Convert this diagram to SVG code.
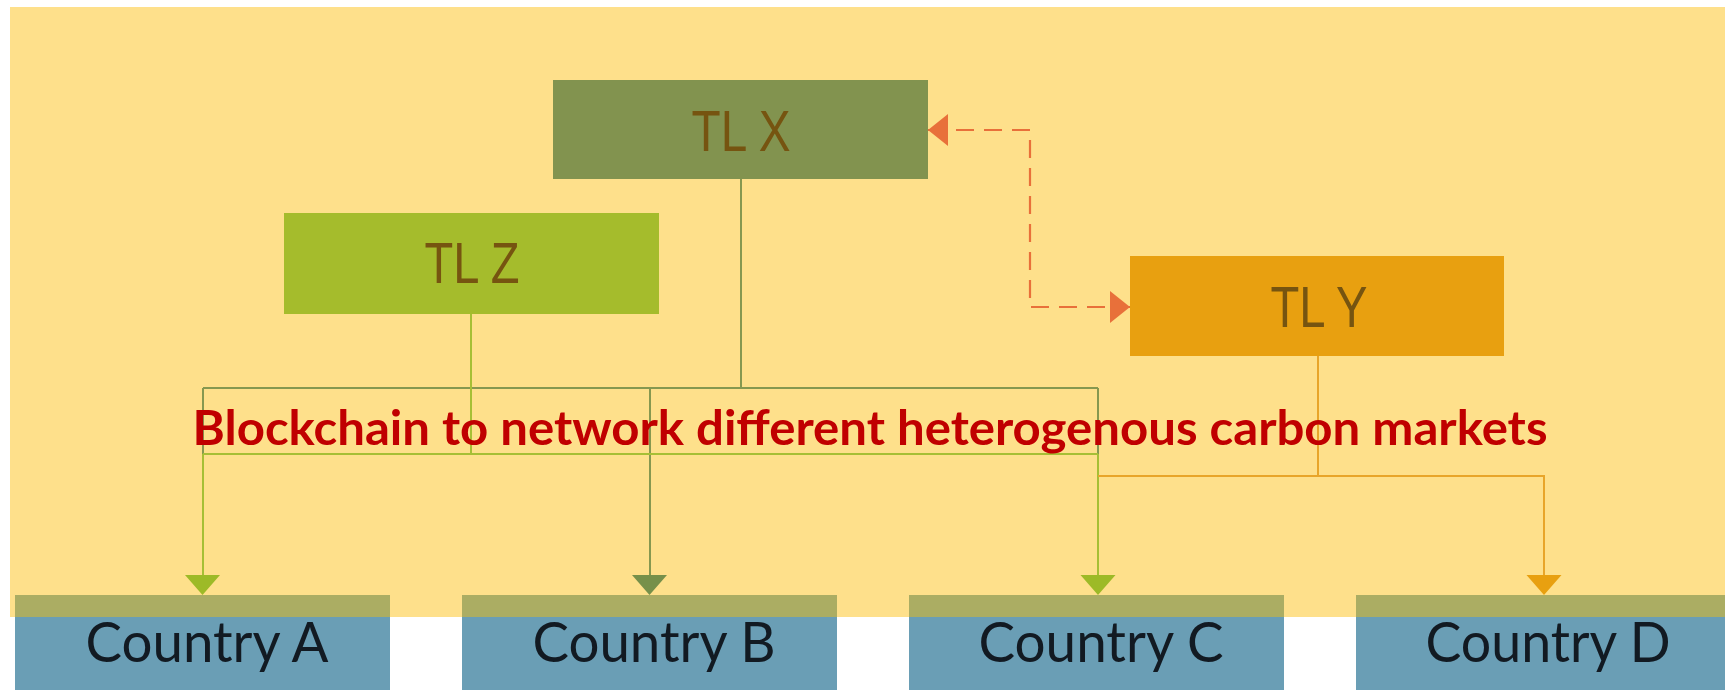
<svg xmlns="http://www.w3.org/2000/svg" width="1725" height="690" viewBox="0 0 1725 690">
  <style>
    .tl { font-family: "Liberation Sans", Arial, sans-serif; font-size: 58px; fill: #765410; text-anchor: middle; }
    .country { font-family: Lato, "Noto Sans", sans-serif; font-size: 56px; fill: #121a22; text-anchor: middle; }
    .band { fill: #abad63; }
    .cbody { fill: #6a9eb5; }
    .ln { fill: none; stroke-width: 2; }
    .lx { stroke: #869850; }
    .lz { stroke: #a6bf35; }
    .ly { stroke: #e8a52a; }
    .title { font-family: Lato, "Noto Sans", sans-serif; font-weight: bold; font-size: 47px; fill: #c00000; text-anchor: middle; }
  </style>
  <defs>
    <marker id="ahOrange" viewBox="0 0 20 32" refX="20" refY="16" markerWidth="20" markerHeight="32" markerUnits="userSpaceOnUse" orient="auto-start-reverse">
      <path d="M0,0 L20,16 L0,32 Z" fill="#e8703a"/>
    </marker>
  </defs>

  <rect width="1725" height="690" fill="#ffffff"/>
  <!-- network area -->
  <rect x="10" y="7" width="1715" height="610" fill="#fee08b"/>

  <!-- country strips -->
  <g id="country-a">
    <rect class="band" x="15" y="595" width="375" height="22"/>
    <rect class="cbody" x="15" y="617" width="375" height="73"/>
    <text class="country" x="207" y="662" textLength="243" lengthAdjust="spacingAndGlyphs">Country A</text>
  </g>
  <g id="country-b">
    <rect class="band" x="462" y="595" width="375" height="22"/>
    <rect class="cbody" x="462" y="617" width="375" height="73"/>
    <text class="country" x="654" y="662" textLength="243" lengthAdjust="spacingAndGlyphs">Country B</text>
  </g>
  <g id="country-c">
    <rect class="band" x="909" y="595" width="375" height="22"/>
    <rect class="cbody" x="909" y="617" width="375" height="73"/>
    <text class="country" x="1101" y="662" textLength="245" lengthAdjust="spacingAndGlyphs">Country C</text>
  </g>
  <g id="country-d">
    <rect class="band" x="1356" y="595" width="375" height="22"/>
    <rect class="cbody" x="1356" y="617" width="375" height="73"/>
    <text class="country" x="1548" y="662" textLength="245" lengthAdjust="spacingAndGlyphs">Country D</text>
  </g>

  <!-- connectors -->
  <g id="connectors">
    <!-- TL X tree -->
    <path class="ln lx" d="M741,179 V388 M203,388 H1098 M203,388 V454 M650,388 V577 M1098,388 V454"/>
    <!-- TL Z tree -->
    <path class="ln lz" d="M471,314 V454 M203,454 H1098 M203,454 V577 M1098,454 V577"/>
    <!-- TL Y tree -->
    <path class="ln ly" d="M1318,356 V476 M1098,476 H1544 V577"/>
    <!-- arrowheads onto the countries -->
    <path d="M185,575 L220,575 L202.5,595 Z" fill="#9dba27"/>
    <path d="M632,575 L667,575 L649.5,595 Z" fill="#76904a"/>
    <path d="M1080.5,575 L1115.5,575 L1098,595 Z" fill="#9dba27"/>
    <path d="M1526.5,575 L1561.5,575 L1544,595 Z" fill="#e8a010"/>
    <!-- TL X <-> TL Y link -->
    <path d="M928,130 H1030 V307 H1130" fill="none" stroke="#e8703a" stroke-width="2.2" stroke-dasharray="18 10" marker-start="url(#ahOrange)" marker-end="url(#ahOrange)"/>
  </g>

  <!-- transaction layers -->
  <g id="tl-x">
    <rect x="553" y="80" width="375" height="99" fill="#82934f"/>
    <text class="tl" x="741" y="151" textLength="99" lengthAdjust="spacingAndGlyphs">TL X</text>
  </g>
  <g id="tl-z">
    <rect x="284" y="213" width="375" height="101" fill="#a5bc2c"/>
    <text class="tl" x="472" y="283" textLength="95" lengthAdjust="spacingAndGlyphs">TL Z</text>
  </g>
  <g id="tl-y">
    <rect x="1130" y="256" width="374" height="100" fill="#e8a010"/>
    <text class="tl" x="1319" y="327" textLength="97" lengthAdjust="spacingAndGlyphs" fill="#6e5a12">TL Y</text>
  </g>

  <text class="title" x="870" y="445" textLength="1355" lengthAdjust="spacingAndGlyphs">Blockchain to network different heterogenous carbon markets</text>
</svg>
